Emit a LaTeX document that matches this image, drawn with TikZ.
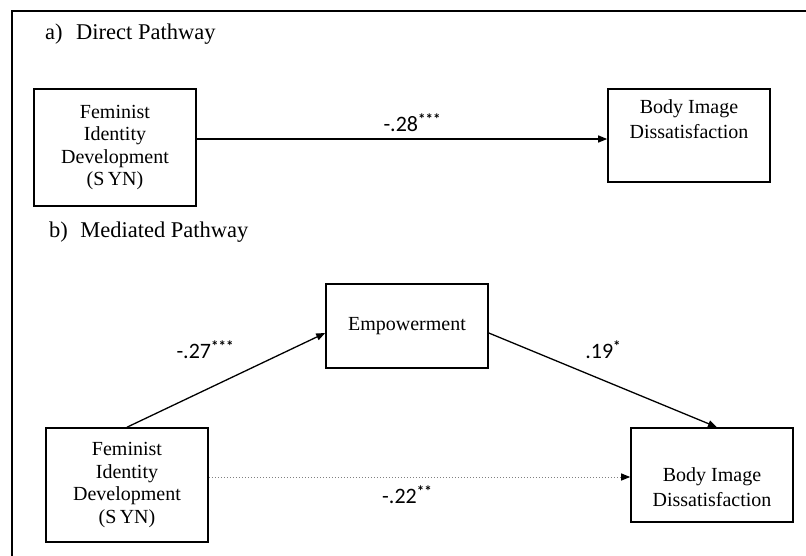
\documentclass[tikz,border=0pt]{standalone}
\usepackage{fontspec}
\setmainfont{Liberation Serif}
\newfontfamily\labfont{Carlito}
\usetikzlibrary{arrows.meta}
\newcommand{\stars}[1]{\raisebox{0.3em}{\fontsize{15}{15}\selectfont\bfseries #1}}
\begin{document}
\begin{tikzpicture}[x=1pt,y=-1pt,
  box/.style={draw,line width=1.6pt,minimum width=162pt,inner sep=0pt,align=center,
    font=\fontsize{20}{22.5}\selectfont},
  boxtext/.style={inner sep=0pt,align=center,font=\fontsize{20}{25}\selectfont},
  head/.style={inner sep=0pt,anchor=west,font=\fontsize{22.5}{26}\selectfont},
  coef/.style={inner sep=0pt,font=\labfont\fontsize{22}{24}\selectfont},
  arr/.style={line width=1.3pt,-{Triangle[length=9pt,width=7pt]}},
  dotarr/.style={line width=1pt,gray,dotted,-{Triangle[length=9pt,width=7pt,black]}}]
\useasboundingbox (0,0) rectangle (806,555);
% frame
\draw[line width=2pt] (12,556) -- (12,11) -- (807,11);
% headings
\node[head] (ha) at (45,34) {a)\hspace{0.6em}Direct Pathway};
\node[head] (hb) at (49,232) {b)\hspace{0.55em}Mediated Pathway};
% a) direct pathway
\node[box,minimum height=117pt] (fid1) at (115,147.5) {Feminist\\Identity\\Development\\(S\,YN)};
\node[box,minimum height=93pt] (bid1) at (689,135.5) {};
\node[boxtext,anchor=north] (bid1t) at (689,99) {Body Image\\Dissatisfaction};
\draw[arr] ([yshift=8.5pt]fid1.east) -- ([yshift=-3.5pt]bid1.west);
\node[coef] (c1) at (412,123) {-.28\stars{***}};
% b) mediated pathway
\node[box,minimum height=84pt] (emp) at (407,326) {Empowerment};
\node[box,minimum height=114pt] (fid2) at (127,485) {Feminist\\Identity\\Development\\(S\,YN)};
\node[box,minimum height=94pt] (bid2) at (712,475) {};
\node[boxtext] (bid2t) at (712,487) {Body Image\\Dissatisfaction};
\draw[arr] (fid2.north) -- ([yshift=-7pt]emp.west);
\draw[arr] ([yshift=-7pt]emp.east) -- ([xshift=5pt]bid2.north);
\draw[dotarr] ([yshift=8pt]fid2.east) -- ([yshift=-2pt]bid2.west);
\node[coef] (c2) at (205,350) {-.27\stars{***}};
\node[coef] (c3) at (603,350) {.19\stars{*}};
\node[coef] (c4) at (407,495) {-.22\stars{**}};
\end{tikzpicture}
\end{document}
